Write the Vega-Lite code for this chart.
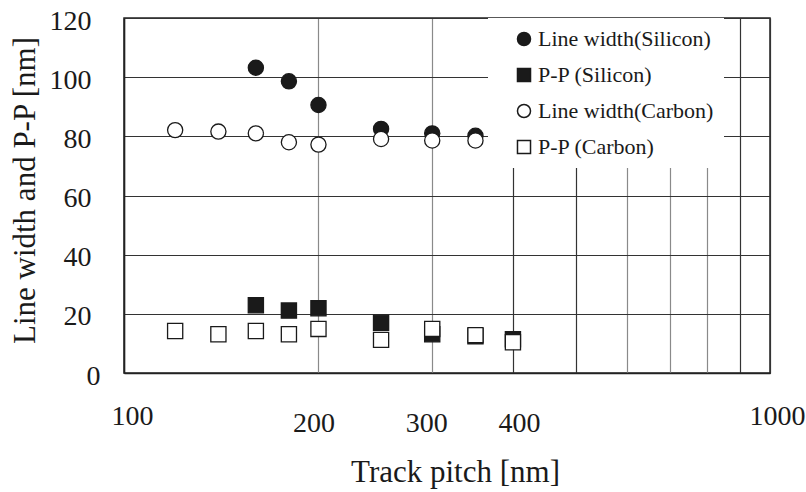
{
  "$schema": "https://vega.github.io/schema/vega-lite/v6.json",
  "width": 646,
  "height": 355,
  "autosize": {"type": "none"},
  "padding": {"left": 124, "top": 18, "right": 36, "bottom": 119},
  "background": "white",
  "config": {
    "font": "Liberation Serif",
    "view": {"stroke": "#222", "strokeWidth": 1.5}
  },
  "data": {
    "values": [
      {"pitch": 160, "value": 103.2, "series": "Line width(Silicon)"},
      {"pitch": 180, "value": 98.6, "series": "Line width(Silicon)"},
      {"pitch": 200, "value": 90.6, "series": "Line width(Silicon)"},
      {"pitch": 250, "value": 82.5, "series": "Line width(Silicon)"},
      {"pitch": 300, "value": 81.0, "series": "Line width(Silicon)"},
      {"pitch": 350, "value": 80.2, "series": "Line width(Silicon)"},
      {"pitch": 160, "value": 22.9, "series": "P-P (Silicon)"},
      {"pitch": 180, "value": 21.1, "series": "P-P (Silicon)"},
      {"pitch": 200, "value": 21.9, "series": "P-P (Silicon)"},
      {"pitch": 250, "value": 17.0, "series": "P-P (Silicon)"},
      {"pitch": 300, "value": 13.1, "series": "P-P (Silicon)"},
      {"pitch": 350, "value": 12.4, "series": "P-P (Silicon)"},
      {"pitch": 400, "value": 11.4, "series": "P-P (Silicon)"},
      {"pitch": 120, "value": 82.1, "series": "Line width(Carbon)"},
      {"pitch": 140, "value": 81.6, "series": "Line width(Carbon)"},
      {"pitch": 160, "value": 81.0, "series": "Line width(Carbon)"},
      {"pitch": 180, "value": 78.0, "series": "Line width(Carbon)"},
      {"pitch": 200, "value": 77.2, "series": "Line width(Carbon)"},
      {"pitch": 250, "value": 79.1, "series": "Line width(Carbon)"},
      {"pitch": 300, "value": 78.6, "series": "Line width(Carbon)"},
      {"pitch": 350, "value": 78.6, "series": "Line width(Carbon)"},
      {"pitch": 120, "value": 14.2, "series": "P-P (Carbon)"},
      {"pitch": 140, "value": 13.1, "series": "P-P (Carbon)"},
      {"pitch": 160, "value": 14.2, "series": "P-P (Carbon)"},
      {"pitch": 180, "value": 13.1, "series": "P-P (Carbon)"},
      {"pitch": 200, "value": 14.9, "series": "P-P (Carbon)"},
      {"pitch": 250, "value": 11.2, "series": "P-P (Carbon)"},
      {"pitch": 300, "value": 14.9, "series": "P-P (Carbon)"},
      {"pitch": 350, "value": 12.8, "series": "P-P (Carbon)"},
      {"pitch": 400, "value": 10.4, "series": "P-P (Carbon)"}
    ]
  },
  "mark": {"type": "point", "filled": false, "opacity": 1, "stroke": "#1a1a1a", "strokeWidth": 1.3, "size": 230},
  "encoding": {
    "x": {
      "field": "pitch",
      "type": "quantitative",
      "scale": {"type": "log", "domain": [100, 1000], "nice": false},
      "axis": {
        "title": "Track pitch [nm]",
        "titleFont": "Times New Roman",
        "titleFontSize": 31,
        "titleFontWeight": "normal",
        "titleColor": "#1a1a1a",
        "titleBaseline": "alphabetic",
        "titleX": 331,
        "titleY": 108,
        "values": [100, 200, 300, 400, 500, 600, 700, 800, 900, 1000],
        "labelExpr": "indexof([100,200,300,400,1000], datum.value) >= 0 ? datum.value : ''",
        "labelFont": "Times New Roman",
        "labelFontSize": 28,
        "labelColor": "#1a1a1a",
        "labelBaseline": "top",
        "labelFlush": false,
        "labelOverlap": false,
        "labelPadding": {"expr": "datum.value == 100 || datum.value == 1000 ? 29 : 36"},
        "labelOffset": {"expr": "datum.value == 100 ? 8 : datum.value == 200 ? -5 : datum.value == 300 ? -6 : datum.value == 400 ? 6 : 7"},
        "ticks": false,
        "tickSize": 0,
        "domain": true,
        "domainColor": "#222",
        "domainWidth": 1.5,
        "grid": true,
        "gridColor": {"expr": "indexof([200,300,600,700,800], datum.value) >= 0 ? '#8a8a8a' : '#333333'"},
        "gridWidth": 1.2,
        "gridOpacity": 1
      }
    },
    "y": {
      "field": "value",
      "type": "quantitative",
      "scale": {"domain": [0, 120], "nice": false},
      "axis": {
        "title": "Line width and P-P [nm]",
        "titleFont": "Times New Roman",
        "titleFontSize": 31,
        "titleFontWeight": "normal",
        "titleColor": "#1a1a1a",
        "titlePadding": 8,
        "titleY": 172,
        "values": [0, 20, 40, 60, 80, 100, 120],
        "labelFont": "Times New Roman",
        "labelFontSize": 28,
        "labelColor": "#1a1a1a",
        "labelPadding": {"expr": "datum.value == 0 ? 24 : 33"},
        "labelOffset": 3,
        "ticks": false,
        "tickSize": 0,
        "domain": true,
        "domainColor": "#222",
        "domainWidth": 1.5,
        "grid": true,
        "gridColor": "#333333",
        "gridWidth": 1.2
      }
    },
    "shape": {
      "field": "series",
      "type": "nominal",
      "scale": {
        "domain": ["Line width(Silicon)", "P-P (Silicon)", "Line width(Carbon)", "P-P (Carbon)"],
        "range": ["circle", "square", "circle", "square"]
      },
      "legend": {
        "title": null,
        "orient": "none",
        "legendX": 364,
        "legendY": 0,
        "fillColor": "white",
        "padding": 10,
        "symbolOffset": 15,
        "labelFont": "Times New Roman",
        "labelFontSize": 22,
        "labelColor": "#1a1a1a",
        "labelOffset": 3,
        "symbolSize": 170,
        "rowPadding": 14,
        "labelLimit": 400,
        "encode": {
          "symbols": {
            "update": {
              "stroke": {"value": "#1a1a1a"},
              "strokeWidth": {"value": 1.2},
              "opacity": {"value": 1}
            }
          }
        }
      }
    },
    "fill": {
      "field": "series",
      "type": "nominal",
      "scale": {
        "domain": ["Line width(Silicon)", "P-P (Silicon)", "Line width(Carbon)", "P-P (Carbon)"],
        "range": ["#1a1a1a", "#1a1a1a", "#ffffff", "#ffffff"]
      }
    }
  }
}
